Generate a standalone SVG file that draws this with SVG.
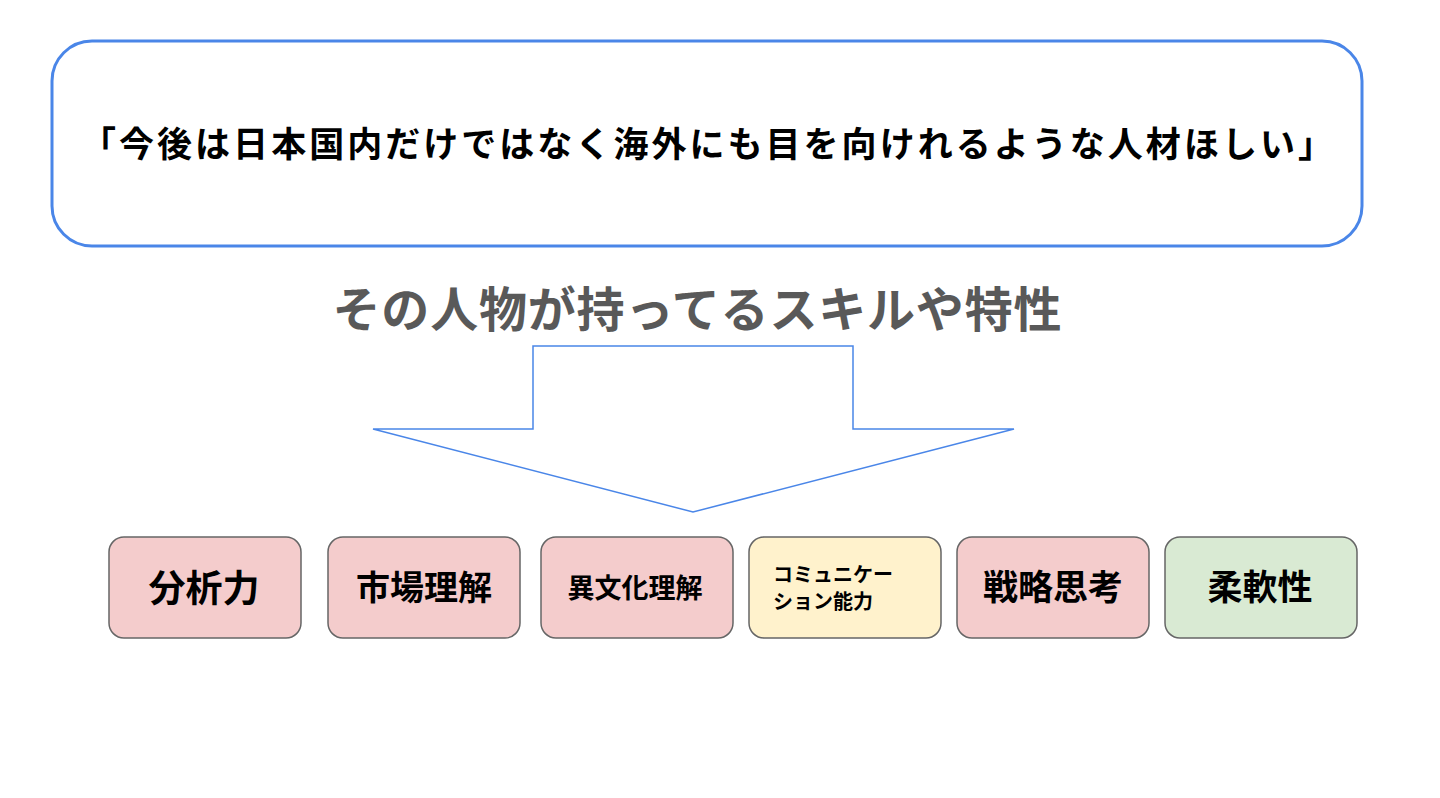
<svg xmlns="http://www.w3.org/2000/svg" width="1440" height="798" viewBox="0 0 1440 798">
<style>
text{font-family:"Noto Sans CJK JP","Noto Sans CJK SC",sans-serif;font-weight:bold;fill:#000}
.skill{stroke:#666;stroke-width:1.5}
.red{fill:#f4cccc}.yel{fill:#fff2cc}.grn{fill:#d9ead3}
</style>
<rect width="1440" height="798" fill="#fff"/>
<g id="top">
<rect x="52" y="41" width="1310" height="205" rx="40" fill="#fff" stroke="#4a86e8" stroke-width="3"/>
<text x="707" y="157" font-size="35" text-anchor="middle" textLength="1252" lengthAdjust="spacing">「今後は日本国内だけではなく海外にも目を向けれるような人材ほしい」</text>
</g>
<g id="subtitle">
<text x="697" y="327" font-size="48" text-anchor="middle" style="fill:#595959" textLength="729" lengthAdjust="spacing">その人物が持ってるスキルや特性</text>
</g>
<g id="connectors">
<polygon points="533,346 853,346 853,429 1014,429 693,512 373,429 533,429" fill="#fff" stroke="#4a86e8" stroke-width="1.5"/>
</g>
<g id="n1"><rect class="skill red" x="109" y="537" width="192" height="101" rx="15"/><text x="204" y="602" font-size="37" text-anchor="middle">分析力</text></g>
<g id="n2"><rect class="skill red" x="328" y="537" width="192" height="101" rx="15"/><text x="424" y="600" font-size="34" text-anchor="middle">市場理解</text></g>
<g id="n3"><rect class="skill red" x="541" y="537" width="192" height="101" rx="15"/><text x="635" y="598" font-size="27" text-anchor="middle">異文化理解</text></g>
<g id="n4"><rect class="skill yel" x="749" y="537" width="192" height="101" rx="15"/><text x="773" y="582" font-size="20">コミュニケー</text><text x="773" y="609" font-size="20">ション能力</text></g>
<g id="n5"><rect class="skill red" x="957" y="537" width="192" height="101" rx="15"/><text x="1053" y="600" font-size="35" text-anchor="middle">戦略思考</text></g>
<g id="n6"><rect class="skill grn" x="1165" y="537" width="192" height="101" rx="15"/><text x="1260" y="600" font-size="35" text-anchor="middle">柔軟性</text></g>
</svg>
